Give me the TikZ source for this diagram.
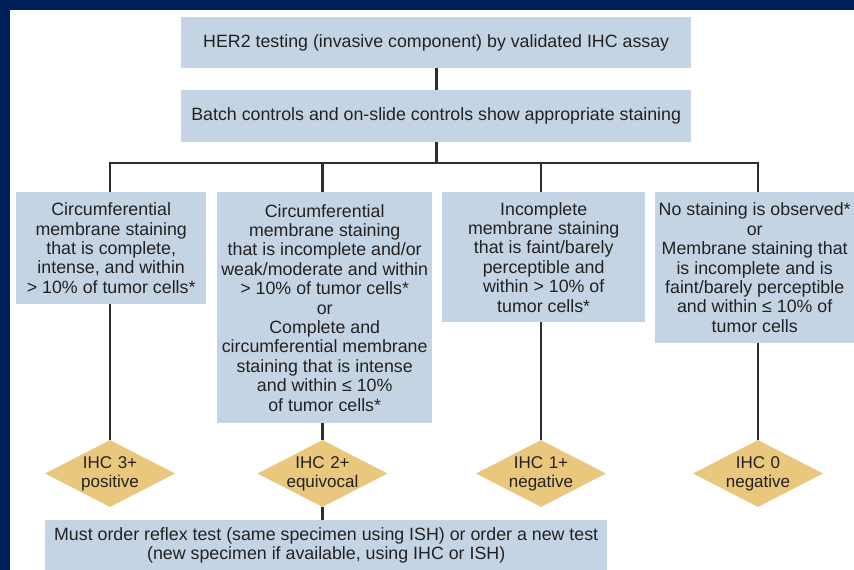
\documentclass[tikz,border=0pt]{standalone}
\usepackage{fontspec}
\setmainfont{Liberation Sans}
\usepackage{tikz}
\usetikzlibrary{shapes.geometric, positioning}
\definecolor{frameblue}{RGB}{0,32,91}
\definecolor{steelfill}{RGB}{197,212,228}
\definecolor{goldfill}{RGB}{233,199,125}
\definecolor{linkgray}{RGB}{45,45,45}
\definecolor{inkgray}{RGB}{35,33,33}

\begin{document}
\begin{tikzpicture}[
    x=1pt, y=-1pt,
    box/.style={rectangle, fill=steelfill, text=inkgray, align=center,
                inner sep=0pt, font={\fontsize{17.8}{19.4}\selectfont}},
    crit/.style={box, anchor=north west},
    grade/.style={diamond, aspect=1.94, fill=goldfill, text=inkgray,
                  text width=74pt, align=center, inner sep=-2pt,
                  minimum width=130pt, minimum height=67pt,
                  font={\fontsize{17}{19}\selectfont}},
    link/.style={line width=2.8pt, linkgray}
]
% frame
\fill[frameblue] (0,0) rectangle (854,570);
\fill[white] (10,10) rectangle (854,570);
\useasboundingbox (0,0) rectangle (854,570);

% top boxes
\node[crit, minimum width=510pt, minimum height=51pt] (test) at (181,17)
    {HER2 testing (invasive component) by validated IHC assay};
\node[crit, minimum width=510pt, minimum height=52pt] (ctrl) at (181,90)
    {Batch controls and on-slide controls show appropriate staining};

% criteria
\node[crit, minimum width=190pt, minimum height=112pt] (b1) at (16,192)
    {Circumferential\\membrane staining\\that is complete,\\intense, and within\\> 10\% of tumor cells*};
\node[crit, minimum width=215pt, minimum height=231pt] (b2) at (217,192)
    {Circumferential\\membrane staining\\that is incomplete and/or\\weak/moderate and within\\> 10\% of tumor cells*\\or\\Complete and\\circumferential membrane\\staining that is intense\\and within ≤ 10\%\\of tumor cells*};
\node[crit, minimum width=203pt, minimum height=130pt] (b3) at (442,192)
    {Incomplete\\membrane staining\\that is faint/barely\\perceptible and\\within > 10\% of\\tumor cells*};
\node[crit, minimum width=199pt, minimum height=151pt] (b4) at (655,192)
    {No staining is observed*\\or\\Membrane staining that\\is incomplete and is\\faint/barely perceptible\\and within ≤ 10\% of\\tumor cells};

% scores
\node[grade] (d1) at (110,473.5) {IHC 3+\\positive};
\node[grade] (d2) at (322.5,473.5) {IHC 2+\\equivocal};
\node[grade] (d3) at (541,473.5) {IHC 1+\\negative};
\node[grade] (d4) at (758,473.5) {IHC 0\\negative};

% reflex test
\node[crit, minimum width=562pt, minimum height=50pt] (reflex) at (45,520)
    {Must order reflex test (same specimen using ISH) or order a new test\\(new specimen if available, using IHC or ISH)};

% connectors
\coordinate (bar) at (0,163);
\draw[link] (test) -- (ctrl);
\draw[link] (ctrl) -- (ctrl |- bar);
\draw[link] (d1 |- b1.north) |- (d4 |- bar) -- (d4 |- b4.north);
\foreach \i in {2,3}{
    \draw[link] (d\i |- bar) -- (d\i |- b\i.north);
}
\foreach \i in {1,...,4}{
    \draw[link] (d\i |- b\i.south) -- (d\i);
}
\draw[link] (d2) -- (d2 |- reflex.north);
\end{tikzpicture}
\end{document}
